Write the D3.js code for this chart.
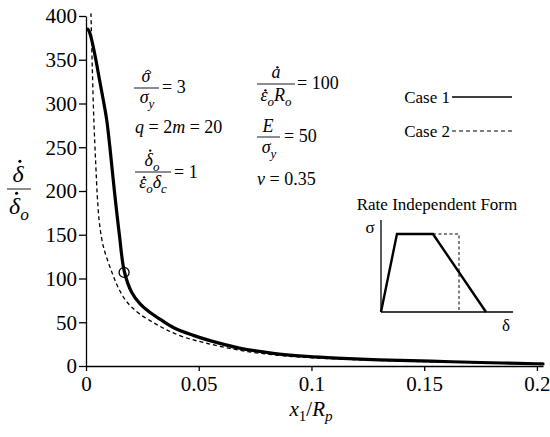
<!DOCTYPE html>
<html><head><meta charset="utf-8">
<script src="https://cdn.jsdelivr.net/npm/d3@7"></script>
<style>
body{margin:0;background:#fff;}
svg text{font-family:"Liberation Serif","Times New Roman",serif;fill:#000;}
</style></head>
<body><svg id="c" width="550" height="437"></svg>
<script>
// ---- data ----
const case1X = [0.0008,0.0015,0.0025,0.0043,0.006,0.0081,0.0092,0.0106,0.0126,0.0148,0.017,0.0203,0.024,0.028,0.0328,0.0387,0.0476,0.055,0.068,0.083,0.098,0.111,0.13,0.153,0.175,0.2,0.2027];
const case1Y = [385,382,373,351,327,298,281,250,200,150,108,84,71,62,53.5,44,35,29,20.5,14.5,11,9,7,5.5,4,2.6,2.4];
const case2X = [0.0022,0.0028,0.0035,0.0043,0.005,0.0058,0.007,0.0084,0.0105,0.0121,0.0135,0.015,0.0173,0.02,0.024,0.03,0.036,0.0435,0.0535,0.068,0.083,0.098,0.12,0.15,0.175,0.2,0.2027];
const case2Y = [403,340,280,232,195,167,145,130,114,103,94,86,76,68,59,49.5,41,33,26,18,12.8,9.8,7.2,5,3.8,2.6,2.4];
const markerX = [0.0169];
const markerY = [107];
const xTicks = [0,0.05,0.1,0.15,0.2];
const xTickLabels = ["0","0.05","0.1","0.15","0.2"];
const yTicks = [0,50,100,150,200,250,300,350,400];
const seriesNames = ["Case 1","Case 2"];
// inset (rate independent form): normalised delta, sigma
const insetSolidD = [0,0.152,0.495,1.0];
const insetSolidS = [0,1,1,0];
const insetDashD = [0.495,0.743,0.743];
const insetDashS = [1,1,0];

const svg = d3.select("#c");
const x = d3.scaleLinear().domain([0,0.2027]).range([86,543]);
const y = d3.scaleLinear().domain([0,400]).range([366,16]);

// axes
const xa = svg.append("g").attr("transform","translate(0,366)")
  .call(d3.axisBottom(x).tickValues(xTicks).tickFormat((d,i)=>xTickLabels[i]).tickSize(5).tickSizeOuter(0));
const ya = svg.append("g").attr("transform","translate(86,0)")
  .call(d3.axisLeft(y).tickValues(yTicks).tickFormat(d3.format("d")).tickSize(7).tickSizeOuter(0));
[xa,ya].forEach(a=>{
  a.selectAll("path,line").attr("stroke","#000").attr("stroke-width",1.3);
  a.selectAll("text").style("font-family",'"Liberation Serif",serif').style("font-size","21px").attr("fill","#000");
});
xa.selectAll("text").attr("dy","0").attr("y",25);
ya.selectAll("text").attr("x",-9).attr("dy","0.33em");

const line = d3.line().x(d=>x(d[0])).y(d=>y(d[1])).curve(d3.curveCatmullRom.alpha(0.5));
const d1 = case1X.map((v,i)=>[v,case1Y[i]]);
const d2 = case2X.map((v,i)=>[v,case2Y[i]]);
svg.append("path").attr("d",line(d2)).attr("fill","none").attr("stroke","#000").attr("stroke-width",1.3).attr("stroke-dasharray","4,3");
svg.append("path").attr("d",line(d1)).attr("fill","none").attr("stroke","#000").attr("stroke-width",3.2).attr("stroke-linejoin","round").attr("stroke-linecap","round");
svg.selectAll("circle.m").data(markerX).enter().append("circle").attr("class","m")
  .attr("cx",(d)=>x(d)).attr("cy",(d,i)=>y(markerY[i])).attr("r",5).attr("fill","none").attr("stroke","#000").attr("stroke-width",1.3);

// ---- math text helpers ----
const accents = [];
// parts: [text, opts] opts: {i:italic, s:sub, acc:'dot'|'hat', tall:bool}
function mtext(parent, xx, yy, fs, parts, anchor){
  const t = parent.append("text").attr("x",xx).attr("y",yy).style("font-size",fs+"px");
  if(anchor) t.attr("text-anchor",anchor);
  let shifted = false;
  parts.forEach(p=>{
    const [str,o] = p; const opt = o||{};
    const ts = t.append("tspan").text(str);
    if(opt.i) ts.style("font-style","italic");
    if(opt.s){ ts.style("font-size",(fs*0.72)+"px"); if(!shifted){ts.attr("dy",fs*0.25); shifted=true;} }
    else if(shifted){ ts.attr("dy",-fs*0.25); shifted=false; }
    if(opt.acc) accents.push({node:ts.node(), fs, acc:opt.acc, tall:!!opt.tall, parent});
  });
  return t;
}
function placeAccents(){
  accents.forEach(a=>{
    const ex = a.node.getExtentOfChar(0);
    const base = ex.y + ex.height*0.805;
    const cx = ex.x + ex.width/2 + a.fs*0.06;
    const top = base - a.fs*(a.tall?0.86:0.60);
    if(a.acc==="dot"){
      a.parent.append("circle").attr("cx",cx+ a.fs*0.02).attr("cy",top).attr("r",a.fs*0.065).attr("fill","#000");
    } else {
      const w = a.fs*0.17, h = a.fs*0.13, c = cx+1, yb = top+1;
      a.parent.append("path").attr("d",`M${c-w},${yb}L${c},${yb-h}L${c+w},${yb}`)
        .attr("fill","none").attr("stroke","#000").attr("stroke-width",1);
    }
  });
}
function fracBar(g,x1,x2,yy){ g.append("line").attr("x1",x1).attr("x2",x2).attr("y1",yy).attr("y2",yy).attr("stroke","#000").attr("stroke-width",0.9); }

// axis labels
const yl = svg.append("g");
mtext(yl,18,182,24,[["δ",{i:1,acc:"dot",tall:1}]],"middle");
fracBar(yl,7,31,189);
mtext(yl,19,214,24,[["δ",{i:1,acc:"dot",tall:1}],["o",{i:1,s:1}]],"middle");

mtext(svg,311,416,21,[["x",{i:1}],["1",{s:1}],["/",{}],["R",{i:1}],["p",{i:1,s:1}]],"middle");

// annotations
const ann = svg.append("g");
mtext(ann,146,82,18,[["σ",{i:1,acc:"hat"}]],"middle");
fracBar(ann,134,159,88);
mtext(ann,147,103,18,[["σ",{i:1}],["y",{i:1,s:1}]],"middle");
mtext(ann,162,93,18,[["= 3"]]);
mtext(ann,135,133,18,[["q",{i:1}],[" = 2"],["m",{i:1}],[" = 20"]]);
mtext(ann,152,166,18,[["δ",{i:1,acc:"dot",tall:1}],["o",{i:1,s:1}]],"middle");
fracBar(ann,135,171,172);
mtext(ann,153,188,18,[["ε",{i:1,acc:"dot"}],["o",{i:1,s:1}],["δ",{i:1}],["c",{i:1,s:1}]],"middle");
mtext(ann,174,178,18,[["= 1"]]);

mtext(ann,276,78,18,[["a",{i:1,acc:"dot"}]],"middle");
fracBar(ann,257,295,84);
mtext(ann,276,101,18,[["ε",{i:1,acc:"dot"}],["o",{i:1,s:1}],["R",{i:1}],["o",{i:1,s:1}]],"middle");
mtext(ann,297,89,18,[["= 100"]]);
mtext(ann,268,132,18,[["E",{i:1}]],"middle");
fracBar(ann,257,280,137);
mtext(ann,269,153,18,[["σ",{i:1}],["y",{i:1,s:1}]],"middle");
mtext(ann,284,142,18,[["= 50"]]);
mtext(ann,257,185,18,[["ν",{i:1}],[" = 0.35"]]);

// legend
const leg = svg.append("g");
seriesNames.forEach((n,i)=>{
  const yy = 97 + i*34;
  leg.append("text").attr("x",450).attr("y",yy+6).attr("text-anchor","end").style("font-size","17px").text(n);
  leg.append("line").attr("x1",452).attr("x2",512).attr("y1",yy).attr("y2",yy).attr("stroke","#000")
    .attr("stroke-width",i===0?1.6:1.2).attr("stroke-dasharray",i===0?null:"4,3");
});

// inset
const ix = d3.scaleLinear().domain([0,1]).range([381,486]);
const iy = d3.scaleLinear().domain([0,1]).range([312,234]);
const ins = svg.append("g");
ins.append("text").attr("x",437).attr("y",210).attr("text-anchor","middle").style("font-size","17px").text("Rate Independent Form");
ins.append("line").attr("x1",ix(0)).attr("x2",ix(0)).attr("y1",iy(0)).attr("y2",iy(1.18)).attr("stroke","#000").attr("stroke-width",1.3);
ins.append("line").attr("x1",ix(0)).attr("x2",ix(1.257)).attr("y1",iy(0)).attr("y2",iy(0)).attr("stroke","#000").attr("stroke-width",1.3);
ins.append("text").attr("x",370).attr("y",233).attr("text-anchor","middle").style("font-size","17px").text("σ");
ins.append("text").attr("x",506).attr("y",331).attr("text-anchor","middle").style("font-size","17px").text("δ");
const il = d3.line().x(d=>ix(d[0])).y(d=>iy(d[1]));
ins.append("path").attr("d",il(insetDashD.map((v,i)=>[v,insetDashS[i]]))).attr("fill","none").attr("stroke","#000").attr("stroke-width",1).attr("stroke-dasharray","3,2.5");
ins.append("path").attr("d",il(insetSolidD.map((v,i)=>[v,insetSolidS[i]]))).attr("fill","none").attr("stroke","#000").attr("stroke-width",2.4).attr("stroke-linejoin","miter");

placeAccents();
</script></body></html>
